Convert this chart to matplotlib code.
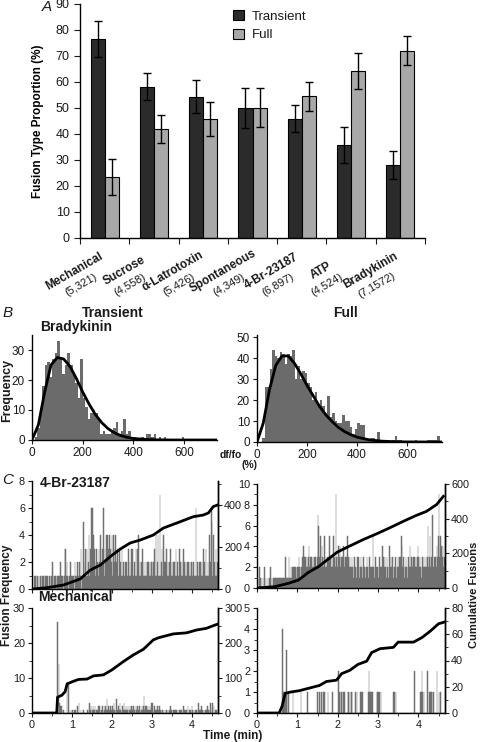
import numpy as np
import matplotlib.pyplot as plt
from matplotlib.ticker import MultipleLocator

plt.rcParams['font.family'] = ['Liberation Sans', 'DejaVu Sans']
plt.rcParams['text.color'] = '#1a1a1a'
plt.rcParams['xtick.color'] = '#1a1a1a'
plt.rcParams['ytick.color'] = '#1a1a1a'

# ---- panel A data
stimuli = ['Mechanical', 'Sucrose', 'α-Latrotoxin', 'Spontaneous', '4-Br-23187', 'ATP', 'Bradykinin']
stim_n = ['(5,321)', '(4,558)', '(5,426)', '(4,349)', '(6,897)', '(4,524)', '(7,1572)']
transient = [76.5, 58.2, 54.3, 50.0, 45.8, 35.8, 28.0]
transient_err = [7.0, 5.2, 6.4, 7.8, 5.2, 7.0, 5.5]
full = [23.5, 42.0, 45.7, 50.0, 54.5, 64.3, 72.0]
full_err = [7.0, 5.3, 6.5, 7.5, 5.5, 6.9, 5.5]

# ---- panel B data (bradykinin df/fo histograms, 10 % bins)
trans_hist = [0, 1, 4, 10, 18, 25, 26, 21, 27, 29, 33, 27, 22, 25, 29, 25, 22, 19, 14, 27,
              14, 11, 7, 9, 10, 9, 7, 2, 3, 2, 2, 3, 4, 6, 2, 3, 7, 2, 3, 1,
              1, 0, 0, 1, 0, 2, 2, 1, 2, 0, 1, 0, 1, 0, 0, 0, 0, 0, 0, 1,
              0, 0, 0, 0, 0, 0, 0, 0, 0, 0, 0, 0, 0]
full_hist = [0, 0, 2, 26, 26, 35, 44, 41, 40, 43, 42, 37, 42, 41, 44, 30, 36, 30, 34, 33,
             28, 26, 20, 24, 18, 20, 17, 14, 22, 12, 14, 10, 9, 9, 13, 10, 10, 7, 4, 6,
             9, 8, 8, 2, 1, 2, 2, 1, 5, 1, 1, 0, 0, 0, 1, 3, 1, 1, 0, 0,
             0, 0, 0, 1, 0, 0, 0, 0, 1, 1, 1, 1, 3, 0]
fit_x = [0, 25, 50, 75, 100, 125, 150, 175, 200, 225, 250, 275, 300, 325, 350, 375, 400,
         450, 500, 550, 600, 700, 740]
trans_fit = [0, 5, 16, 25, 27.5, 27, 24.5, 20.5, 16, 12, 8.5, 5.8, 3.8, 2.4, 1.5, 0.9, 0.5,
             0.2, 0.05, 0, 0, 0, 0]
full_fit = [0, 9, 25, 36.5, 41, 41, 37.5, 32.5, 27, 22, 17, 13, 9.8, 7, 5, 3.5, 2.3,
            1, 0.4, 0.15, 0.05, 0, 0]

# ---- panel C data (fusions per 1 s bin, base-36 digits; cumulative fusions)
br_trans_counts = ("0001010110" "1011010101" "1101001011" "2101110111" "1120111013"
                   "3121011201" "1110211121" "1213011512" "3131241316" "6343213121"
                   "3241232613" "2414314232" "4143241231" "1312131211" "2121131213"
                   "1311213132" "4121213121" "1212121212" "2121314124" "1171231412"
                   "2131212131" "2121213121" "1312121312" "1212121212" "2121116121"
                   "1212121312" "1311214126" "5141213121")
br_full_counts = ("0102010100" "1201001010" "2010101111" "1111111111" "1131111311"
                  "2121221212" "2232122324" "3232323423" "2323232323" "7632524323"
                  "5232323523" "2325232932" "3434232343" "2323523232" "2321232123"
                  "3212321232" "2123212321" "2252123212" "1232124232" "3213212423"
                  "2321232123" "2323542321" "2321232423" "3232323234" "3232123232"
                  "2323623523" "3723232435" "9353434232")
mech_trans_counts = ("0000000000" "0000000000" "0000000000" "00000000q0" "e321201100"
                     "0090810010" "1001010020" "3001000100" "0001013120" "1211201112"
                     "1201121012" "2141201121" "1213101411" "2131012131" "1211201212"
                     "2121102121" "1210121251" "2121211213" "1301210120" "1201011010"
                     "0110101021" "1010110101" "0101100201" "1010201010" "2101010101"
                     "3101201010" "1012010130" "1302010100")
mech_full_counts = ("0000000000" "0000000000" "0000000000" "0000000411" "1013101000"
                    "0001000000" "0000010000" "0000010000" "0000000001" "0010010010"
                    "1000010000" "0010000000" "0211011011" "1000011010" "1100001010"
                    "0001011000" "0000012110" "1100000011" "1010100000" "0000000000"
                    "0001101000" "0000000000" "0000000000" "0000200000" "0001121010"
                    "0002001011" "1010000200" "1010000000")

br_trans_cum_t = [0, 0.37, 0.79, 1.21, 1.46, 1.71, 1.96, 2.21, 2.46, 2.71, 3.04, 3.29, 3.71,
                  4.04, 4.29, 4.42, 4.54, 4.65]
br_trans_cum = [0, 6, 19, 48, 90, 114, 154, 190, 219, 233, 257, 290, 320, 344, 352, 362, 392, 400]
br_full_cum_t = [0, 0.45, 0.78, 1.03, 1.28, 1.53, 1.74, 1.99, 2.28, 2.62, 2.95, 3.28, 3.62,
                 3.95, 4.2, 4.45, 4.62]
br_full_cum = [0, 8, 27, 46, 91, 124, 162, 207, 240, 278, 311, 346, 384, 419, 442, 481, 529]
mech_trans_cum_t = [0, 0.62, 0.64, 0.75, 0.83, 0.88, 1.0, 1.17, 1.38, 1.54, 1.79, 2.0, 2.29,
                    2.54, 2.79, 3.04, 3.17, 3.54, 3.87, 4.12, 4.37, 4.65]
mech_trans_cum = [0, 0, 45, 51, 61, 83, 89, 96, 97, 106, 109, 123, 147, 166, 182, 209, 215,
                  226, 229, 237, 242, 254]
mech_full_cum_t = [0, 0.55, 0.62, 0.7, 0.84, 1.05, 1.3, 1.55, 1.72, 1.97, 2.1, 2.3, 2.5,
                   2.72, 2.84, 3.05, 3.38, 3.5, 3.88, 4.09, 4.3, 4.5, 4.67]
mech_full_cum = [0, 0, 5, 15, 16, 17, 19, 21, 24, 25, 30, 32.5, 37, 39.5, 46, 49, 50, 54, 54,
                 57.5, 62.5, 68, 69.5]

W, H = 480, 742
fig = plt.figure(figsize=(W / 100, H / 100), dpi=100)


def px_box(l, t, r, b):
    return [l / W, 1 - b / H, (r - l) / W, (b - t) / H]


def clean(ax, keep=('left', 'bottom')):
    for side in ['top', 'right', 'left', 'bottom']:
        ax.spines[side].set_visible(side in keep)
        ax.spines[side].set_linewidth(1)


# ================= A
axA = fig.add_axes(px_box(80, 4, 425, 238))
xpos = np.arange(len(stimuli))
bw = 0.285
ekw = dict(elinewidth=1, capthick=1, ecolor='black')
axA.bar(xpos - bw / 2, transient, bw, yerr=transient_err, color='#2b2b2b', edgecolor='black',
        lw=0.8, capsize=3, error_kw=ekw, label='Transient')
axA.bar(xpos + bw / 2, full, bw, yerr=full_err, color='#a8a8a8', edgecolor='black',
        lw=0.8, capsize=3, error_kw=ekw, label='Full')
axA.set_xlim(-0.5, 6.5)
axA.set_ylim(0, 90)
axA.set_yticks(range(0, 91, 10))
axA.set_xticks(np.arange(-0.5, 7, 1))
axA.set_xticklabels([])
axA.tick_params(axis='both', length=4, labelsize=9)
clean(axA)
axA.set_ylabel('Fusion Type Proportion (%)', fontweight='bold', fontsize=8.5, labelpad=8)
axA.legend(loc='upper left', bbox_to_anchor=(0.41, 1.025), frameon=False, fontsize=9.5,
           handlelength=0.8, handleheight=0.8, handletextpad=0.6, labelspacing=0.45)
for i, (name, n) in enumerate(zip(stimuli, stim_n)):
    axA.annotate(name, xy=(i, 0), xycoords=('data', 'axes fraction'), xytext=(-30, -33),
                 textcoords='offset pixels', rotation=30, rotation_mode='anchor',
                 ha='center', va='center', fontweight='bold', fontsize=8.5)
    axA.annotate(n, xy=(i, 0), xycoords=('data', 'axes fraction'), xytext=(-24, -47),
                 textcoords='offset pixels', rotation=30, rotation_mode='anchor',
                 ha='center', va='center', fontsize=8)
fig.text(47 / W, 1 - 7 / H, 'A', fontstyle='italic', fontsize=11, ha='center', va='center')

# ================= B
hist_color = '#6b6b6b'
axBt = fig.add_axes(px_box(32, 335, 217, 440))
axBt.bar(np.arange(len(trans_hist)) * 10, trans_hist, width=10, align='edge', color=hist_color, lw=0)
axBt.plot(fit_x, trans_fit, color='black', lw=2)
axBt.set_xlim(0, 730)
axBt.set_ylim(0, 35)
axBt.set_xticks([0, 200, 400, 600])
axBt.set_yticks([0, 10, 20, 30])

axBf = fig.add_axes(px_box(257, 335, 442, 442))
axBf.bar(np.arange(len(full_hist)) * 10, full_hist, width=10, align='edge', color=hist_color, lw=0)
axBf.plot(fit_x, full_fit, color='black', lw=2)
axBf.set_xlim(0, 740)
axBf.set_ylim(0, 51)
axBf.set_xticks([0, 200, 400, 600])
axBf.set_yticks([0, 10, 20, 30, 40, 50])
for ax in (axBt, axBf):
    clean(ax)
    ax.tick_params(axis='both', length=3, labelsize=8.5, pad=2)

fig.text(8 / W, 1 - 313 / H, 'B', fontstyle='italic', fontsize=11, ha='center', va='center')
fig.text(113 / W, 1 - 313 / H, 'Transient', fontweight='bold', fontsize=10, ha='center', va='center')
fig.text(345 / W, 1 - 313 / H, 'Full', fontweight='bold', fontsize=10, ha='center', va='center')
fig.text(40 / W, 1 - 327 / H, 'Bradykinin', fontweight='bold', fontsize=10, ha='left', va='center')
fig.text(7 / W, 1 - 390 / H, 'Frequency', fontweight='bold', fontsize=9, rotation=90,
         ha='center', va='center')
fig.text(231 / W, 1 - 455 / H, 'df/fo', fontweight='bold', fontsize=7.5, ha='center', va='center')
fig.text(249 / W, 1 - 465 / H, '(%)', fontweight='bold', fontsize=7.5, ha='center', va='center')


# ================= C
def event_panel(box, counts_str, cum_t, cum, ylim, ylim2, ystep, ystep2, show_x):
    ax = fig.add_axes(box)
    counts = [int(c, 36) for c in counts_str]
    t = np.arange(len(counts)) / 60
    ax.bar(t, counts, width=1 / 60, align='edge', color='#707070', edgecolor='#707070', lw=0.35)
    ax.set_xlim(0, 4.66)
    ax.set_ylim(*ylim)
    ax.yaxis.set_major_locator(MultipleLocator(ystep))
    ax.yaxis.set_minor_locator(MultipleLocator(ystep / 2))
    ax.xaxis.set_major_locator(MultipleLocator(1))
    ax.xaxis.set_minor_locator(MultipleLocator(0.5))
    clean(ax, keep=('left', 'bottom', 'right'))
    ax.tick_params(axis='both', which='major', length=3, labelsize=7.8, pad=2)
    ax.tick_params(axis='both', which='minor', length=2)
    if not show_x:
        ax.tick_params(axis='x', labelbottom=False)
    ax2 = ax.twinx()
    ax2.plot(cum_t, cum, color='black', lw=2)
    ax2.set_ylim(*ylim2)
    ax2.yaxis.set_major_locator(MultipleLocator(ystep2))
    ax2.yaxis.set_minor_locator(MultipleLocator(ystep2 / 2))
    clean(ax2, keep=('right',))
    ax2.tick_params(axis='y', which='major', length=3, labelsize=7.8, pad=1.5)
    ax2.tick_params(axis='y', which='minor', length=2)
    return ax


event_panel(px_box(32, 481, 218, 589), br_trans_counts, br_trans_cum_t, br_trans_cum,
            (0, 8), (0, 514), 2, 200, False)
event_panel(px_box(257, 484, 445, 588), br_full_counts, br_full_cum_t, br_full_cum,
            (0, 10), (0, 600), 2, 200, False)
event_panel(px_box(32, 608, 218, 713), mech_trans_counts, mech_trans_cum_t, mech_trans_cum,
            (0, 30), (0, 300), 10, 100, True)
event_panel(px_box(257, 608, 445, 713), mech_full_counts, mech_full_cum_t, mech_full_cum,
            (0, 5), (0, 80), 1, 20, True)

fig.text(8 / W, 1 - 480 / H, 'C', fontstyle='italic', fontsize=11, ha='center', va='center')
fig.text(40 / W, 1 - 483 / H, '4-Br-23187', fontweight='bold', fontsize=10, ha='left', va='center')
fig.text(38 / W, 1 - 597 / H, 'Mechanical', fontweight='bold', fontsize=10, ha='left', va='center')
fig.text(7 / W, 1 - 595 / H, 'Fusion Frequency', fontweight='bold', fontsize=8.5,
         rotation=90, ha='center', va='center')
fig.text(474 / W, 1 - 595 / H, 'Cumulative Fusions', fontweight='bold', fontsize=8,
         rotation=90, ha='center', va='center')
fig.text(233 / W, 1 - 736 / H, 'Time (min)', fontweight='bold', fontsize=8.5, ha='center', va='center')

fig.savefig('out.png', dpi=100)
